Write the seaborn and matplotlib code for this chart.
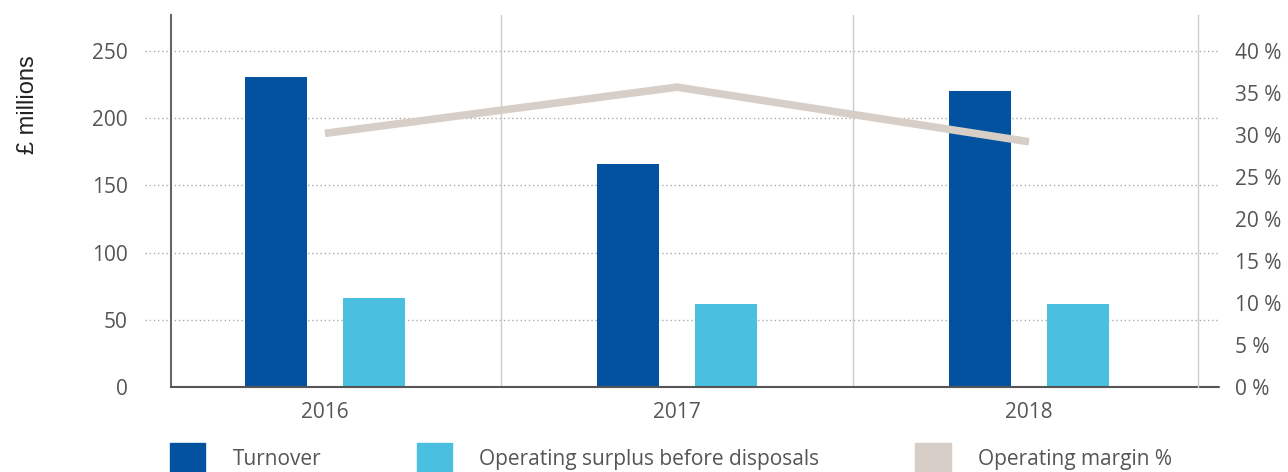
import numpy as np
import pandas as pd
import seaborn as sns
from matplotlib import pyplot as plt
from matplotlib.patches import Patch

# data
years = ["2016", "2017", "2018"]
turnover = [231, 166, 220]
surplus = [66, 62, 62]
margin = [30.2, 35.7, 29.2]

series_names = ["Turnover", "Operating surplus before disposals"]
margin_name = "Operating margin %"
colors = ["#0352a0", "#4bbfdf"]
line_color = "#d6cec7"
text_color = "#555555"

df = pd.DataFrame({
    "year": years * 2,
    "value": turnover + surplus,
    "series": [series_names[0]] * 3 + [series_names[1]] * 3,
})

sns.set_style("white")
plt.rcParams["font.family"] = ["Open Sans", "DejaVu Sans"]

fig = plt.figure(figsize=(12.88, 4.72), dpi=100)
ax = fig.add_axes([171 / 1288, 1 - 387 / 472, (1198 - 171) / 1288, (387 - 15) / 472])

sns.barplot(data=df, x="year", y="value", hue="series", palette=colors, saturation=1,
            width=0.556, gap=0.367, linewidth=0, legend=False, ax=ax, zorder=3)

ax.set_xlim(-0.4375, 2.48)
ax.set_ylim(0, 276.8)
ax.set_yticks([0, 50, 100, 150, 200, 250])

# dotted grid lines, running a bit past both spines
for v in [50, 100, 150, 200, 250]:
    ax.plot([-0.025, 1.02], [v, v], transform=ax.get_yaxis_transform(),
            color="#aaaaaa", lw=1, ls=(0, (1, 2)), clip_on=False, zorder=1)
# baseline
ax.plot([0, 1.02], [0, 0], transform=ax.get_yaxis_transform(),
        color="#555555", lw=1.5, clip_on=False, zorder=4)
# category separators
for xs in [0.5, 1.5]:
    ax.axvline(xs, color="#cccccc", lw=1, zorder=1)

for s in ["top", "bottom", "right"]:
    ax.spines[s].set_visible(False)
ax.spines["left"].set_color("#666666")
ax.spines["left"].set_linewidth(1.5)

ax.tick_params(axis="y", length=0, pad=31, labelsize=15, labelcolor=text_color)
ax.tick_params(axis="x", length=0, pad=11, labelsize=15, labelcolor=text_color)
ax.set_xlabel("")
ax.set_ylabel("")

# operating margin on the right axis
ax2 = ax.twinx()
sns.lineplot(x=np.arange(len(years)), y=margin, ax=ax2, color=line_color,
             lw=5.5, solid_capstyle="butt", zorder=5)
ax2.set_ylim(0, 44.29)
ax2.set_yticks(range(0, 45, 5))
ax2.set_yticklabels([f"{v} %" for v in range(0, 45, 5)])
ax2.tick_params(axis="y", length=0, pad=27, labelsize=15, labelcolor=text_color)
for s in ["top", "bottom", "left"]:
    ax2.spines[s].set_visible(False)
ax2.spines["right"].set_color("#cccccc")
ax2.spines["right"].set_linewidth(1)

fig.text(0.022, 1 - 105 / 472, "£ millions", rotation=90, ha="center", va="center",
         fontsize=17, family=["Liberation Sans", "DejaVu Sans"], color="#222222")

handles = [Patch(color=colors[0]), Patch(color=colors[1]), Patch(color=line_color)]
labels = series_names + [margin_name]
fig.legend(handles, labels, ncol=3, loc="upper left", bbox_to_anchor=(170 / 1288, 1 - 443 / 472),
           frameon=False, fontsize=15, labelcolor=text_color, handlelength=1.7,
           handleheight=1.9, columnspacing=4.6, handletextpad=1.3, borderpad=0, borderaxespad=0)

fig.savefig("out.png", dpi=100)
